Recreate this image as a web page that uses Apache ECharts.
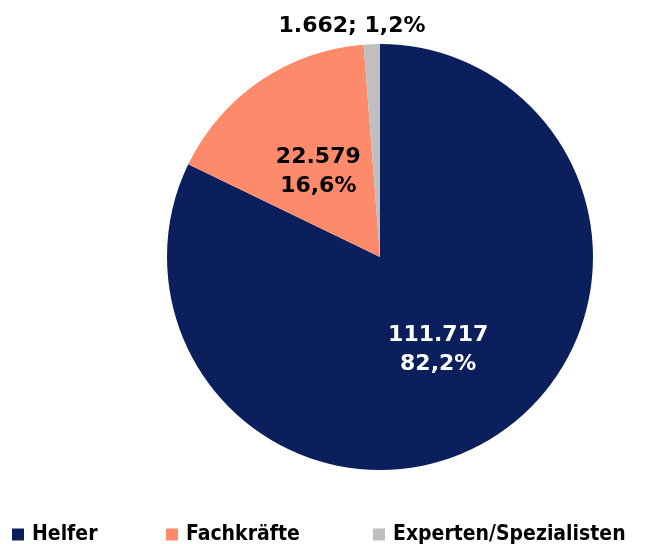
<!DOCTYPE html>
<html>
<head>
<meta charset="utf-8">
<script src="https://cdn.jsdelivr.net/npm/echarts@6/dist/echarts.min.js"></script>
<style>
  html, body { margin: 0; padding: 0; background: #fff; }
  #chart { width: 646px; height: 544px; }
</style>
</head>
<body>
<div id="chart"></div>
<script>
// Daten
var categories = ['Helfer', 'Fachkräfte', 'Experten/Spezialisten'];
var values = [111717, 22579, 1662];
var valueLabels = ['111.717', '22.579', '1.662'];
var percentLabels = ['82,2%', '16,6%', '1,2%'];
var colors = ['#0b1f5c', '#fe8a6c', '#bfbfbf'];

var chart = echarts.init(document.getElementById('chart'));

var legendLeft = [12, 166, 373];
var legends = categories.map(function (name, i) {
    return {
        data: [name],
        left: legendLeft[i],
        top: 524,
        padding: 0,
        icon: 'rect',
        itemWidth: 12,
        itemHeight: 12,
        itemGap: 0,
        selectedMode: false,
        textStyle: {
            fontFamily: 'DejaVu Sans Condensed',
            fontWeight: 'bold',
            fontSize: 21,
            color: '#000',
            padding: [0, 0, 0, 3]
        }
    };
});

chart.setOption({
    animation: false,
    color: colors,
    legend: legends,
    series: [{
        type: 'pie',
        center: [380, 257],
        radius: [0, 213],
        startAngle: 90,
        clockwise: true,
        label: {
            show: true,
            position: 'inside',
            fontFamily: 'DejaVu Sans',
            fontWeight: 'bold',
            fontSize: 22,
            lineHeight: 29,
            formatter: function (p) {
                var i = p.dataIndex;
                if (i === 2) return valueLabels[i] + '; ' + percentLabels[i];
                return valueLabels[i] + '\n' + percentLabels[i];
            }
        },
        labelLine: { show: false },
        labelLayout: function (params) {
            if (params.dataIndex === 2) {
                return { x: 352, y: 26, align: 'center', verticalAlign: 'middle' };
            }
        },
        data: categories.map(function (name, i) {
            return {
                name: name,
                value: values[i],
                label: {
                    color: i === 0 ? '#fff' : '#000',
                    offset: i === 1 ? [0, 5] : [0, 0]
                }
            };
        })
    }]
});
</script>
</body>
</html>
